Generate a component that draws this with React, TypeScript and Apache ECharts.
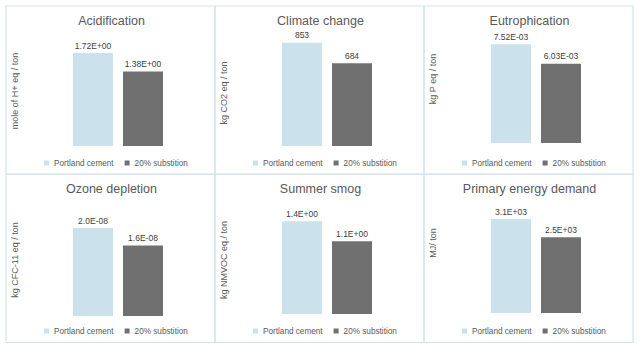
import React, { useEffect, useRef } from "react";
import * as echarts from "echarts";

const panelTitles = ["Acidification", "Climate change", "Eutrophication", "Ozone depletion", "Summer smog", "Primary energy demand"];
const unitLabels = ["mole of H+ eq / ton", "kg CO2 eq / ton", "kg P eq / ton", "kg CFC-11 eq / ton", "kg NMVOC eq./ ton", "MJ/ ton"];
const seriesNames = ["Portland cement", "20% substition"];
const portlandValues = [1.72, 853, 7.52e-3, 2.0e-8, 1.4, 3.1e3];
const substitutionValues = [1.38, 684, 6.03e-3, 1.6e-8, 1.1, 2.5e3];
const labelDigits = [2, -1, 2, 1, 1, 1];
const axisMax = [2, 1000, 0.008, 2.5e-8, 1.6, 3500];

function excelExp(v: number, digits: number): string {
  if (digits < 0) return String(Math.round(v));
  let exp = Math.floor(Math.log10(Math.abs(v)) + 1e-9);
  let mant = v / Math.pow(10, exp);
  let m = mant.toFixed(digits);
  if (parseFloat(m) >= 10) {
    exp += 1;
    m = (v / Math.pow(10, exp)).toFixed(digits);
  }
  const sign = exp < 0 ? "-" : "+";
  const e = String(Math.abs(exp)).padStart(2, "0");
  return `${m}E${sign}${e}`;
}

const PANEL_LEFTS = [6, 215, 424];
const PANEL_TOPS = [6, 174];
const PANEL_W = 209;
const PANEL_H = 168.5;
const GRID_BOTTOMS = [146, 146, 143, 316, 314, 313];
const GRID_HEIGHTS = [108, 121, 105, 110, 106, 106];
const UNIT_CENTERS = [91, 93, 79, 260, 260, 243];

export default function App() {
  const ref = useRef<HTMLDivElement>(null);
  useEffect(() => {
    if (!ref.current) return;
    const chart = echarts.init(ref.current, undefined, { renderer: "svg" });
    const grids: any[] = [];
    const xAxes: any[] = [];
    const yAxes: any[] = [];
    const series: any[] = [];
    const titles: any[] = [];
    const legends: any[] = [];
    const graphics: any[] = [];
    const font = "Liberation Sans, Arial, sans-serif";

    panelTitles.forEach((t, i) => {
      const col = i % 3;
      const row = Math.floor(i / 3);
      const pl = PANEL_LEFTS[col];
      const pt = PANEL_TOPS[row];
      const cx = pl + PANEL_W / 2 + 1;
      grids.push({
        left: pl + 31,
        width: 162,
        top: GRID_BOTTOMS[i] - GRID_HEIGHTS[i],
        height: GRID_HEIGHTS[i],
      });
      xAxes.push({ type: "category", gridIndex: i, data: [t], show: false });
      yAxes.push({ type: "value", gridIndex: i, min: 0, max: axisMax[i], show: false });
      const vals = [portlandValues[i], substitutionValues[i]];
      const colors = ["#cbe1eb", "#707070"];
      [0, 1].forEach((s) => {
        series.push({
          type: "bar",
          name: seriesNames[s],
          xAxisIndex: i,
          yAxisIndex: i,
          data: [vals[s]],
          barWidth: 40,
          barGap: "25%",
          itemStyle: { color: colors[s] },
          label: {
            show: true,
            position: "top",
            distance: 3,
            fontSize: 8.5,
            color: "#404040",
            fontFamily: font,
            formatter: (p: any) => excelExp(p.value, labelDigits[i]),
          },
        });
      });
      titles.push({
        text: t,
        left: cx,
        top: pt + 8,
        textAlign: "center",
        padding: 0,
        textStyle: { fontSize: 12.5, fontWeight: "normal", color: "#595959", fontFamily: font },
      });
      legends.push({
        data: seriesNames,
        left: pl + 38,
        top: pt + 153,
        padding: 0,
        itemWidth: 5,
        itemHeight: 5,
        itemGap: 11,
        icon: "rect",
        selectedMode: false,
        textStyle: { fontSize: 8.2, color: "#595959", fontFamily: font },
      });
      graphics.push({
        type: "rect",
        shape: { x: pl, y: pt, width: PANEL_W, height: PANEL_H },
        style: { fill: "none", stroke: "#d3e4ec", lineWidth: 1.2 },
        silent: true,
      });
      graphics.push({
        type: "text",
        x: pl + 8.5,
        y: UNIT_CENTERS[i],
        rotation: Math.PI / 2,
        style: {
          text: unitLabels[i],
          fontSize: 9,
          fill: "#595959",
          fontFamily: font,
          align: "center",
          verticalAlign: "middle",
        },
        silent: true,
      });
    });

    chart.setOption({
      animation: false,
      backgroundColor: "#ffffff",
      title: titles,
      legend: legends,
      grid: grids,
      xAxis: xAxes,
      yAxis: yAxes,
      series,
      graphic: graphics,
    });
    return () => chart.dispose();
  }, []);
  return (
    <div
      ref={ref}
      style={{ position: "fixed", left: 0, top: 0, width: 640, height: 348, background: "#fff" }}
    />
  );
}
